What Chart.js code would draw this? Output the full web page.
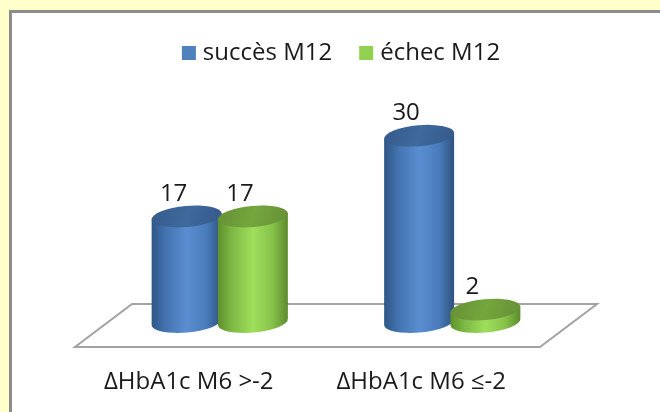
<!DOCTYPE html>
<html>
<head>
<meta charset="utf-8">
<script src="https://cdn.jsdelivr.net/npm/chart.js@4"></script>
<style>
  html, body { margin: 0; padding: 0; width: 660px; height: 412px; overflow: hidden; background: #FFFFCC; }
  #panel { position: absolute; left: 9px; top: 10px; width: 700px; height: 450px; background: #FFFFFF;
           border: 3px solid #8C8C8C; box-sizing: border-box; }
  #wrap { position: absolute; left: 0; top: 0; width: 660px; height: 412px; }
</style>
</head>
<body>
<div id="panel"></div>
<div id="wrap"><canvas id="chart" width="660" height="412"></canvas></div>
<script>
// Groups (change of HbA1c at month 6) and outcome at month 12
const categories = ['ΔHbA1c M6 >-2', 'ΔHbA1c M6 ≤-2'];
const seriesNames = ['succès M12', 'échec M12'];
const succesM12 = [17, 30];
const echecM12 = [17, 2];

const FONT = "'Open Sans', 'DejaVu Sans', sans-serif";
const TEXT = '#1A1A1A';

// colour ramps for the cylinder bodies: [edge, mid, highlight, mid, edge] + top cap
const palettes = [
  { legend: '#4F81BD', ramp: ['#2F5685', '#4373B0', '#5A8ED0', '#4A7CBC', '#2E527F'], cap: '#3F6A9D', capEdge: '#35598A' },
  { legend: '#92D050', ramp: ['#5E8F2C', '#7DB844', '#9FDE5B', '#86C24A', '#5C8A2C'], cap: '#74A63C', capEdge: '#668F36' }
];

// floor plane under the bars
const floorPlugin = {
  id: 'floor',
  beforeDatasetsDraw(chart) {
    const { ctx, chartArea } = chart;
    const zeroY = chart.scales.y.getPixelForValue(0);
    const back = zeroY - 18, front = zeroY + 25, shift = 28.5;
    ctx.save();
    ctx.beginPath();
    ctx.moveTo(chartArea.left + shift, back);
    ctx.lineTo(chartArea.right + shift, back);
    ctx.lineTo(chartArea.right - shift, front);
    ctx.lineTo(chartArea.left - shift, front);
    ctx.closePath();
    ctx.fillStyle = '#FFFFFF';
    ctx.fill();
    ctx.lineWidth = 2;
    ctx.strokeStyle = '#A3A3A3';
    ctx.stroke();
    ctx.restore();
  }
};

// draws every bar as a shaded cylinder with its value above it
const cylinderPlugin = {
  id: 'cylinders',
  beforeDatasetDraw() { return false; },
  afterDatasetsDraw(chart) {
    const { ctx } = chart;
    const rot = -0.09;
    chart.data.datasets.forEach((ds, di) => {
      const meta = chart.getDatasetMeta(di);
      const pal = palettes[di];
      meta.data.forEach((bar, i) => {
        const { x, y, base, width } = bar.getProps(['x', 'y', 'base', 'width'], true);
        const rx = width / 2, ry = 10.5;
        const dxs = rx * Math.cos(rot), dys = rx * Math.sin(rot);
        ctx.save();
        // body
        const g = ctx.createLinearGradient(x - rx, 0, x + rx, 0);
        g.addColorStop(0, pal.ramp[0]);
        g.addColorStop(0.2, pal.ramp[1]);
        g.addColorStop(0.5, pal.ramp[2]);
        g.addColorStop(0.78, pal.ramp[3]);
        g.addColorStop(1, pal.ramp[4]);
        ctx.beginPath();
        ctx.ellipse(x, base, rx, ry, rot, 0, Math.PI, false);
        ctx.lineTo(x - dxs, y - dys);
        ctx.lineTo(x + dxs, y + dys);
        ctx.closePath();
        ctx.fillStyle = g;
        ctx.fill();
        // top cap
        const gc = ctx.createLinearGradient(x - rx, y - ry, x + rx, y + ry);
        gc.addColorStop(0, pal.capEdge);
        gc.addColorStop(0.5, pal.cap);
        gc.addColorStop(1, pal.capEdge);
        ctx.beginPath();
        ctx.ellipse(x, y, rx, ry, rot, 0, Math.PI * 2);
        ctx.fillStyle = gc;
        ctx.fill();
        // value label
        ctx.fillStyle = TEXT;
        ctx.font = '24px ' + FONT;
        ctx.textAlign = 'center';
        ctx.textBaseline = 'bottom';
        ctx.fillText(String(ds.data[i]), x - 13, y - ry);
        ctx.restore();
      });
    });
  }
};

// legend row above the plot: square swatch, short gap, series name
const legendPlugin = {
  id: 'seriesLegend',
  afterDraw(chart) {
    const { ctx } = chart;
    const box = 14, gap = 7, between = 27, cy = 53;
    ctx.save();
    ctx.font = '24px ' + FONT;
    const items = chart.data.datasets.map((ds, i) => ({
      text: ds.label, color: palettes[i].legend, w: ctx.measureText(ds.label).width
    }));
    const total = items.reduce((s, it) => s + box + gap + it.w, 0) + between * (items.length - 1);
    let x = (chart.chartArea.left + chart.chartArea.right) / 2 + 5 - total / 2;
    ctx.textBaseline = 'middle';
    ctx.textAlign = 'left';
    items.forEach(it => {
      ctx.fillStyle = it.color;
      ctx.fillRect(x, cy - box / 2, box, box);
      x += box + gap;
      ctx.fillStyle = TEXT;
      ctx.fillText(it.text, x, cy);
      x += it.w + between;
    });
    ctx.restore();
  }
};

new Chart(document.getElementById('chart'), {
  type: 'bar',
  data: {
    labels: categories,
    datasets: [
      { label: seriesNames[0], data: succesM12, backgroundColor: palettes[0].legend },
      { label: seriesNames[1], data: echecM12, backgroundColor: palettes[1].legend }
    ]
  },
  options: {
    responsive: false,
    animation: false,
    devicePixelRatio: 1,
    categoryPercentage: 0.57,
    barPercentage: 1.06,
    layout: { padding: { left: 103.5, right: 91.5, top: 83, bottom: 15.6 } },
    plugins: {
      legend: { display: false },
      tooltip: { enabled: false }
    },
    scales: {
      x: {
        grid: { display: false, drawTicks: false },
        border: { display: false },
        ticks: {
          color: TEXT, font: { family: FONT, size: 24 }, padding: 45.6, labelOffset: -31,
          maxRotation: 0, minRotation: 0, autoSkip: false
        },
        afterFit(scale) { scale.height = 74.4; }
      },
      y: { display: false, min: 0, max: 38.5 }
    }
  },
  plugins: [floorPlugin, cylinderPlugin, legendPlugin]
});
</script>
</body>
</html>
